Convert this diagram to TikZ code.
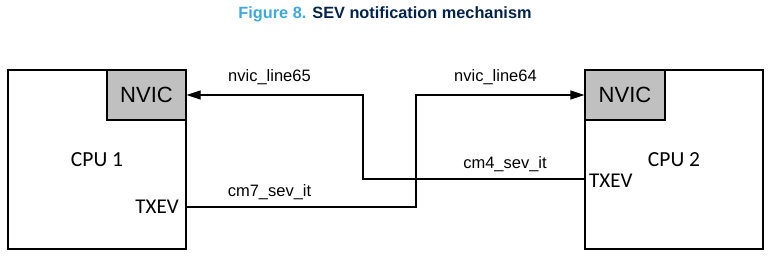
\documentclass[tikz,border=0pt]{standalone}
\usepackage{fontspec}
\setmainfont{Liberation Sans}
\newfontfamily\cpufont{Carlito}
\definecolor{STLightBlue}{HTML}{3CA9DD}
\definecolor{STDarkBlue}{HTML}{03234B}
\definecolor{NvicGray}{HTML}{C0C0C0}
\usetikzlibrary{arrows.meta,positioning,calc}

\begin{document}
\begin{tikzpicture}[x=1pt,y=-1pt,>={Triangle[length=14pt,width=9pt]},
    cpubox/.style={draw,line width=1.3pt,minimum width=178pt,minimum height=179pt,inner sep=0pt,font=\cpufont\fontsize{21.5}{24}\selectfont},
    nvicbox/.style={draw,line width=1.3pt,fill=NvicGray,minimum width=79pt,minimum height=50pt,inner sep=0pt,font=\fontsize{22}{26}\selectfont},
    pin/.style={inner sep=0pt,font=\cpufont\fontsize{21}{24}\selectfont},
    sig/.style={inner sep=0pt,anchor=base,font=\fontsize{16.5}{19}\selectfont},
    wire/.style={line width=1.3pt}]
  \useasboundingbox (0,0) rectangle (773,256);
  \node[font=\bfseries\fontsize{16.3}{19}\selectfont,anchor=base,inner sep=0pt] (title) at (385,19)
    {\textcolor{STLightBlue}{Figure 8.} \textcolor{STDarkBlue}{SEV notification mechanism}};
  % processors
  \node[cpubox] (cpu1) at (97,159.5) {CPU 1};
  \node[cpubox] (cpu2) at (674,159.5) {CPU 2};
  \node[nvicbox,anchor=north east,minimum width=79pt] (nvic1) at (cpu1.north east) {NVIC};
  \node[nvicbox,anchor=north west,minimum width=80pt] (nvic2) at (cpu2.north west) {NVIC};
  \node[pin,anchor=east] (txev1) at (179,207) {TXEV};
  \node[pin,anchor=west] (txev2) at (589,181) {TXEV};
  \coordinate (out1) at (186,207);
  \coordinate (out2) at (584,179);
  % event lines
  \draw[wire,->] (out1) -- ++(230,0) |- (nvic2.west);
  \draw[wire,->] (out2) -- ++(-221,0) |- (nvic1.east);
  \node[sig] (l65) at (269.5,82) {nvic\_line65};
  \node[sig] (l64) at (495.5,82) {nvic\_line64};
  \node[sig] (cm7) at (269.5,197) {cm7\_sev\_it};
  \node[sig] (cm4) at (505,169) {cm4\_sev\_it};
\end{tikzpicture}
\end{document}
